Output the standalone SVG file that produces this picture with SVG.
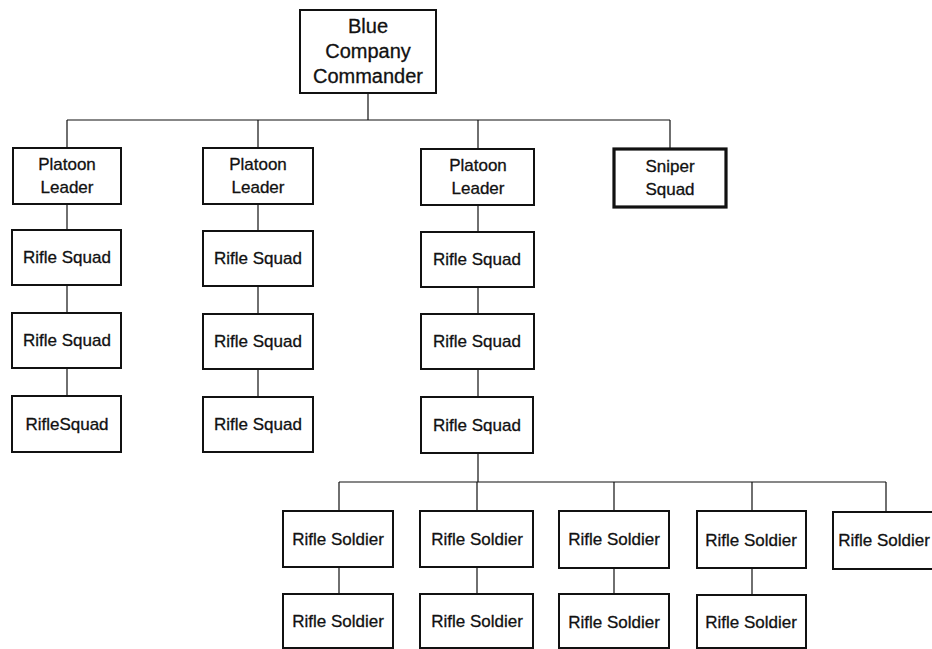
<svg xmlns="http://www.w3.org/2000/svg" width="932" height="649" viewBox="0 0 932 649">
<style>
.box{fill:#fff;stroke:#111;stroke-width:2}
.thick{fill:#fff;stroke:#111;stroke-width:3.2}
.lbl{font-family:"Liberation Sans",Arial,sans-serif;font-size:17px;fill:#111;stroke:#111;stroke-width:0.3;text-anchor:middle}
.big{font-size:20px}
.con{stroke:#111;stroke-width:1.2;fill:none}
</style>
<rect width="932" height="649" fill="#fff"/>
<g id="connectors">
<path class="con" d="M368,93V120M67,120H670M67,120V148M258,120V148M478,120V149M670,120V149"/>
<path class="con" d="M67,204V230M67,285V313M67,368V396"/>
<path class="con" d="M258,204V231M258,286V314M258,369V397"/>
<path class="con" d="M478,205V232M478,287V314M478,369V397M478,453V482"/>
<path class="con" d="M339,482H886M339,482V511M477,482V511M614,482V511M752,482V511M886,482V512"/>
<path class="con" d="M339,567V594M477,567V594M614,568V594M752,568V595"/>
</g>
<g id="commander"><rect class="box" x="300" y="10" width="136" height="83"/>
<text class="lbl big" x="368" y="33">Blue</text><text class="lbl big" x="368" y="58">Company</text><text class="lbl big" x="368" y="83">Commander</text></g>
<g id="pl1"><rect class="box" x="13" y="148" width="108" height="56"/><text class="lbl" x="67" y="170">Platoon</text><text class="lbl" x="67" y="193">Leader</text></g>
<g id="pl2"><rect class="box" x="203" y="148" width="110" height="56"/><text class="lbl" x="258" y="170">Platoon</text><text class="lbl" x="258" y="193">Leader</text></g>
<g id="pl3"><rect class="box" x="421" y="149" width="113" height="56"/><text class="lbl" x="478" y="171">Platoon</text><text class="lbl" x="478" y="194">Leader</text></g>
<g id="sniper"><rect class="thick" x="614" y="149" width="112" height="58"/><text class="lbl" x="670" y="172">Sniper</text><text class="lbl" x="670" y="195">Squad</text></g>
<g id="rs1a"><rect class="box" x="12" y="230" width="109" height="55"/><text class="lbl" x="67" y="263">Rifle Squad</text></g>
<g id="rs1b"><rect class="box" x="12" y="313" width="109" height="55"/><text class="lbl" x="67" y="346">Rifle Squad</text></g>
<g id="rs1c"><rect class="box" x="12" y="396" width="109" height="56"/><text class="lbl" x="67" y="430">RifleSquad</text></g>
<g id="rs2a"><rect class="box" x="203" y="231" width="110" height="55"/><text class="lbl" x="258" y="264">Rifle Squad</text></g>
<g id="rs2b"><rect class="box" x="203" y="314" width="110" height="55"/><text class="lbl" x="258" y="347">Rifle Squad</text></g>
<g id="rs2c"><rect class="box" x="203" y="397" width="110" height="55"/><text class="lbl" x="258" y="430">Rifle Squad</text></g>
<g id="rs3a"><rect class="box" x="421" y="232" width="113" height="55"/><text class="lbl" x="477" y="265">Rifle Squad</text></g>
<g id="rs3b"><rect class="box" x="421" y="314" width="113" height="55"/><text class="lbl" x="477" y="347">Rifle Squad</text></g>
<g id="rs3c"><rect class="box" x="421" y="397" width="112" height="56"/><text class="lbl" x="477" y="431">Rifle Squad</text></g>
<g id="s1a"><rect class="box" x="283" y="511" width="110" height="56"/><text class="lbl" x="338" y="545">Rifle Soldier</text></g>
<g id="s2a"><rect class="box" x="420" y="511" width="113" height="56"/><text class="lbl" x="477" y="545">Rifle Soldier</text></g>
<g id="s3a"><rect class="box" x="559" y="511" width="110" height="57"/><text class="lbl" x="614" y="545">Rifle Soldier</text></g>
<g id="s4a"><rect class="box" x="697" y="511" width="109" height="57"/><text class="lbl" x="751" y="546">Rifle Soldier</text></g>
<g id="s5a"><rect class="box" x="833" y="512" width="110" height="57"/><text class="lbl" x="884" y="546">Rifle Soldier</text></g>
<g id="s1b"><rect class="box" x="283" y="594" width="110" height="54"/><text class="lbl" x="338" y="627">Rifle Soldier</text></g>
<g id="s2b"><rect class="box" x="420" y="594" width="113" height="54"/><text class="lbl" x="477" y="627">Rifle Soldier</text></g>
<g id="s3b"><rect class="box" x="559" y="594" width="110" height="54"/><text class="lbl" x="614" y="628">Rifle Soldier</text></g>
<g id="s4b"><rect class="box" x="697" y="595" width="109" height="53"/><text class="lbl" x="751" y="628">Rifle Soldier</text></g>
</svg>
